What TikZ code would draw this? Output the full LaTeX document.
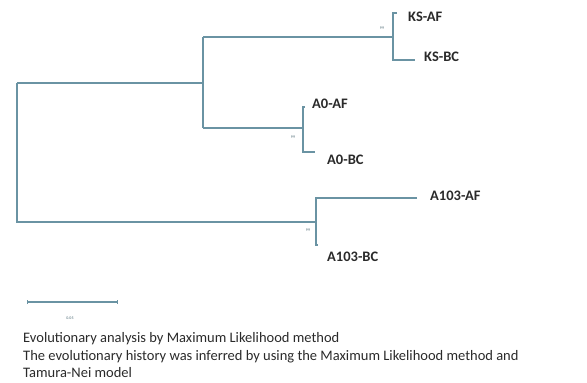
\documentclass[tikz,border=0pt]{standalone}
\usepackage{fontspec}
\setmainfont{Carlito}
\usetikzlibrary{arrows.meta}
\definecolor{treeline}{HTML}{6A93A3}
\definecolor{labeltext}{HTML}{2A2A2A}

\begin{document}
\begin{tikzpicture}[
    x=1pt, y=-1pt,
    every node/.style={text=labeltext, inner sep=0pt},
    branch/.style={draw=treeline, line width=1.1pt},
    taxon/.style={anchor=west, font=\fontsize{14.5}{16}\selectfont\bfseries},
    support/.style={font=\fontsize{4}{4}\selectfont, text=treeline!70!black},
    caption/.style={anchor=base west, font=\fontsize{14.5}{16}\selectfont}
]
    \useasboundingbox (0,0) rectangle (587,383);

    % Internal nodes
    \coordinate (root) at (17,83);
    \coordinate (inner) at (203,83);
    \coordinate (ks) at (393,37);
    \coordinate (a0) at (303,128);
    \coordinate (a103) at (316,222);

    % Tips
    \coordinate (ksaf) at (397,13);
    \coordinate (ksbc) at (415,60);
    \coordinate (a0af) at (305,107);
    \coordinate (a0bc) at (315,152);
    \coordinate (a103af) at (417,198);
    \coordinate (a103bc) at (318,245);

    % Taxon labels
    \node[taxon] (tksaf) at (408,17) {KS-AF};
    \node[taxon] (tksbc) at (424,57) {KS-BC};
    \node[taxon] (ta0af) at (312,104) {A0-AF};
    \node[taxon] (ta0bc) at (327,160) {A0-BC};
    \node[taxon] (ta103af) at (430,196) {A103-AF};
    \node[taxon] (ta103bc) at (327,257) {A103-BC};

    % Branches
    \draw[branch] (root) |- (a103);
    \draw[branch] (root) -- (inner);
    \draw[branch] (inner |- ks) -- (inner |- a0);
    \draw[branch] (inner |- ks) -- (ks);
    \draw[branch] (inner |- a0) -- (a0);
    \draw[branch] (ksaf) -| (ks) |- (ksbc);
    \draw[branch] (a0af) -| (a0) |- (a0bc);
    \draw[branch] (a103af) -| (a103) |- (a103bc);

    % Support values
    \node[support] (sks) at (382,28) {99};
    \node[support] (sa0) at (293,137) {99};
    \node[support] (sa103) at (308,230) {99};

    % Scale bar
    \coordinate (sbl) at (27,302);
    \coordinate (sbr) at (118,302);
    \draw[branch, {Bar[width=4pt]}-{Bar[width=4pt]}] (sbl) -- (sbr);
    \node[support] (sblabel) at (70,318) {0.05};

    % Caption
    \node[caption] (cap1) at (23,342) {Evolutionary analysis by Maximum Likelihood method};
    \node[caption] (cap2) at (23,360) {The evolutionary history was inferred by using the Maximum Likelihood method and};
    \node[caption] (cap3) at (23,377) {Tamura-Nei model};
\end{tikzpicture}
\end{document}
